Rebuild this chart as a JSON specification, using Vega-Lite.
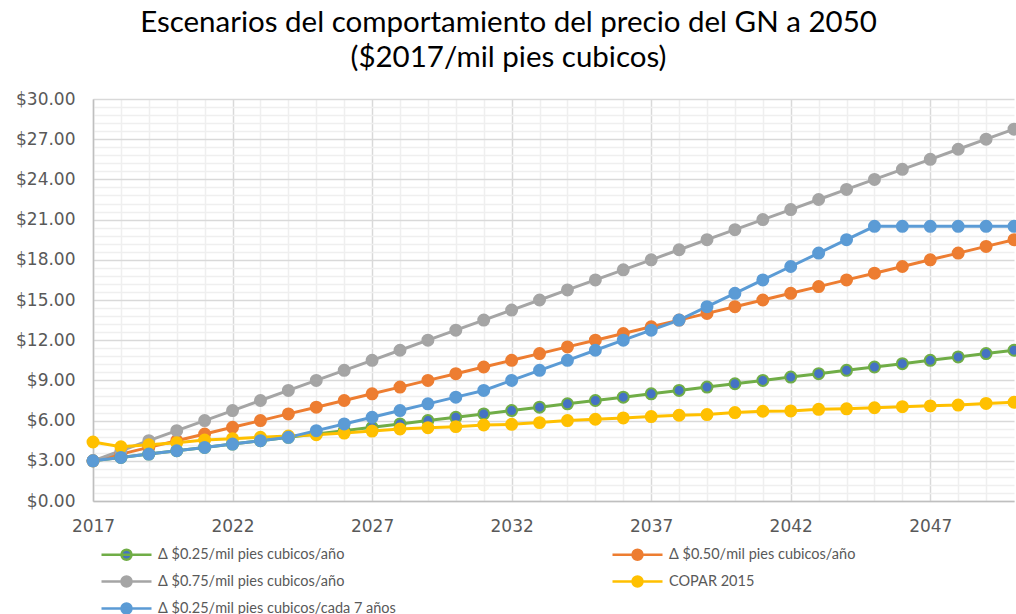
{
  "$schema": "https://vega.github.io/schema/vega-lite/v6.json",
  "width": 921,
  "height": 402,
  "autosize": {"type": "none"},
  "padding": {"left": 93, "top": 99, "right": 2, "bottom": 113},
  "background": "white",
  "title": {
    "text": ["Escenarios del comportamiento del precio del GN a 2050", "($2017/mil pies cubicos)"],
    "anchor": "middle",
    "dx": -45,
    "font": "Lato",
    "fontSize": 29.5,
    "fontWeight": "normal",
    "color": "#000000",
    "lineHeight": 35,
    "offset": 17
  },
  "config": {
    "view": {"stroke": null},
    "axis": {"labelFont": "DejaVu Sans", "labelColor": "#595959", "labelFontSize": 17}
  },
  "data": {
    "values": [
      {"year": 2017, "A": 3, "B": 3, "C": 3, "D": 4.4, "E": 3},
      {"year": 2018, "A": 3.25, "B": 3.5, "C": 3.75, "D": 4.05, "E": 3.25},
      {"year": 2019, "A": 3.5, "B": 4, "C": 4.5, "D": 4.2, "E": 3.5},
      {"year": 2020, "A": 3.75, "B": 4.5, "C": 5.25, "D": 4.35, "E": 3.75},
      {"year": 2021, "A": 4, "B": 5, "C": 6, "D": 4.55, "E": 4},
      {"year": 2022, "A": 4.25, "B": 5.5, "C": 6.75, "D": 4.65, "E": 4.25},
      {"year": 2023, "A": 4.5, "B": 6, "C": 7.5, "D": 4.75, "E": 4.5},
      {"year": 2024, "A": 4.75, "B": 6.5, "C": 8.25, "D": 4.85, "E": 4.75},
      {"year": 2025, "A": 5, "B": 7, "C": 9, "D": 4.95, "E": 5.25},
      {"year": 2026, "A": 5.25, "B": 7.5, "C": 9.75, "D": 5.07, "E": 5.75},
      {"year": 2027, "A": 5.5, "B": 8, "C": 10.5, "D": 5.22, "E": 6.25},
      {"year": 2028, "A": 5.75, "B": 8.5, "C": 11.25, "D": 5.37, "E": 6.75},
      {"year": 2029, "A": 6, "B": 9, "C": 12, "D": 5.47, "E": 7.25},
      {"year": 2030, "A": 6.25, "B": 9.5, "C": 12.75, "D": 5.55, "E": 7.75},
      {"year": 2031, "A": 6.5, "B": 10, "C": 13.5, "D": 5.67, "E": 8.25},
      {"year": 2032, "A": 6.75, "B": 10.5, "C": 14.25, "D": 5.72, "E": 9},
      {"year": 2033, "A": 7, "B": 11, "C": 15, "D": 5.85, "E": 9.75},
      {"year": 2034, "A": 7.25, "B": 11.5, "C": 15.75, "D": 6.0, "E": 10.5},
      {"year": 2035, "A": 7.5, "B": 12, "C": 16.5, "D": 6.1, "E": 11.25},
      {"year": 2036, "A": 7.75, "B": 12.5, "C": 17.25, "D": 6.2, "E": 12},
      {"year": 2037, "A": 8, "B": 13, "C": 18, "D": 6.3, "E": 12.75},
      {"year": 2038, "A": 8.25, "B": 13.5, "C": 18.75, "D": 6.4, "E": 13.5},
      {"year": 2039, "A": 8.5, "B": 14, "C": 19.5, "D": 6.45, "E": 14.5},
      {"year": 2040, "A": 8.75, "B": 14.5, "C": 20.25, "D": 6.6, "E": 15.5},
      {"year": 2041, "A": 9, "B": 15, "C": 21, "D": 6.7, "E": 16.5},
      {"year": 2042, "A": 9.25, "B": 15.5, "C": 21.75, "D": 6.72, "E": 17.5},
      {"year": 2043, "A": 9.5, "B": 16, "C": 22.5, "D": 6.84, "E": 18.5},
      {"year": 2044, "A": 9.75, "B": 16.5, "C": 23.25, "D": 6.88, "E": 19.5},
      {"year": 2045, "A": 10, "B": 17, "C": 24, "D": 6.96, "E": 20.5},
      {"year": 2046, "A": 10.25, "B": 17.5, "C": 24.75, "D": 7.04, "E": 20.5},
      {"year": 2047, "A": 10.5, "B": 18, "C": 25.5, "D": 7.1, "E": 20.5},
      {"year": 2048, "A": 10.75, "B": 18.5, "C": 26.25, "D": 7.16, "E": 20.5},
      {"year": 2049, "A": 11, "B": 19, "C": 27, "D": 7.28, "E": 20.5},
      {"year": 2050, "A": 11.25, "B": 19.5, "C": 27.75, "D": 7.37, "E": 20.5}
    ]
  },
  "transform": [{"fold": ["A", "B", "C", "D", "E"], "as": ["serie", "precio"]}],
  "layer": [
    {
      "mark": {"type": "line", "strokeWidth": 3},
      "encoding": {
        "x": {
          "field": "year", "type": "quantitative",
          "scale": {"domain": [2017, 2050], "nice": false, "zero": false},
          "axis": {
            "title": null, "values": [2017, 2022, 2027, 2032, 2037, 2042, 2047], "format": "d",
            "grid": true, "gridColor": "#D9D9D9", "gridWidth": 1.5, "ticks": false,
            "domainColor": "#BFBFBF", "domainWidth": 1.5, "labelPadding": 17, "labelFlush": false
          }
        },
        "y": {
          "field": "precio", "type": "quantitative",
          "scale": {"domain": [0, 30], "nice": false},
          "axis": {
            "title": null, "values": [0, 3, 6, 9, 12, 15, 18, 21, 24, 27, 30], "format": "$.2f",
            "grid": true, "gridColor": "#D9D9D9", "gridWidth": 1.5, "ticks": false,
            "domainColor": "#BFBFBF", "domainWidth": 1.5, "labelPadding": 18
          }
        },
        "color": {
          "field": "serie", "type": "nominal",
          "scale": {"domain": ["A", "B", "C", "D", "E"], "range": ["#70AD47", "#ED7D31", "#A5A5A5", "#FFC000", "#5B9BD5"]},
          "legend": {
            "title": null, "orient": "none", "legendX": 22, "legendY": 444, "direction": "horizontal", "columns": 2,
            "columnPadding": 211, "rowPadding": 5,
            "symbolType": "M-2.5,0L2.5,0M-0.5,0A0.5,0.5,0,1,0,0.5,0A0.5,0.5,0,1,0,-0.5,0Z",
            "symbolSize": 400, "symbolStrokeWidth": 2.5, "labelOffset": 20,
            "labelFont": "Lato", "labelFontSize": 14.5, "labelColor": "#595959", "labelLimit": 400,
            "labelExpr": "{'A': 'Δ $0.25/mil pies cubicos/año', 'B': 'Δ $0.50/mil pies cubicos/año', 'C': 'Δ $0.75/mil pies cubicos/año', 'D': 'COPAR 2015', 'E': 'Δ $0.25/mil pies cubicos/cada 7 años'}[datum.label]",
            "encode": {
              "symbols": {
                "update": {
                  "fill": {"signal": "datum.value === 'A' ? '#4472C4' : scale('color', datum.value)"},
                  "stroke": {"signal": "scale('color', datum.value)"},
                  "opacity": {"value": 1}
                }
              }
            }
          }
        }
      }
    },
    {
      "mark": {"type": "point", "filled": true, "shape": "circle", "size": 120, "strokeWidth": 2, "opacity": 1},
      "encoding": {
        "x": {
          "field": "year", "type": "quantitative",
          "axis": {
            "orient": "top", "title": null, "labels": false, "ticks": false, "domain": false, "grid": true,
            "gridColor": "#EFEFEF", "gridWidth": 1.5,
            "values": [2018, 2019, 2020, 2021, 2023, 2024, 2025, 2026, 2028, 2029, 2030, 2031, 2033, 2034, 2035, 2036, 2038, 2039, 2040, 2041, 2043, 2044, 2045, 2046, 2048, 2049]
          }
        },
        "y": {
          "field": "precio", "type": "quantitative",
          "axis": {
            "orient": "right", "title": null, "labels": false, "ticks": false, "domain": false, "grid": true,
            "gridColor": "#EFEFEF", "gridWidth": 1.5,
            "values": [0.6, 1.2, 1.8, 2.4, 3.6, 4.2, 4.8, 5.4, 6.6, 7.2, 7.8, 8.4, 9.6, 10.2, 10.8, 11.4, 12.6, 13.2, 13.8, 14.4, 15.6, 16.2, 16.8, 17.4, 18.6, 19.2, 19.8, 20.4, 21.6, 22.2, 22.8, 23.4, 24.6, 25.2, 25.8, 26.4, 27.6, 28.2, 28.8, 29.4]
          }
        },
        "fill": {
          "field": "serie", "type": "nominal", "legend": null,
          "scale": {"domain": ["A", "B", "C", "D", "E"], "range": ["#4472C4", "#ED7D31", "#A5A5A5", "#FFC000", "#5B9BD5"]}
        },
        "stroke": {
          "field": "serie", "type": "nominal", "legend": null,
          "scale": {"domain": ["A", "B", "C", "D", "E"], "range": ["#70AD47", "#ED7D31", "#A5A5A5", "#FFC000", "#5B9BD5"]}
        }
      }
    }
  ],
  "resolve": {"axis": {"x": "independent", "y": "independent"}}
}
